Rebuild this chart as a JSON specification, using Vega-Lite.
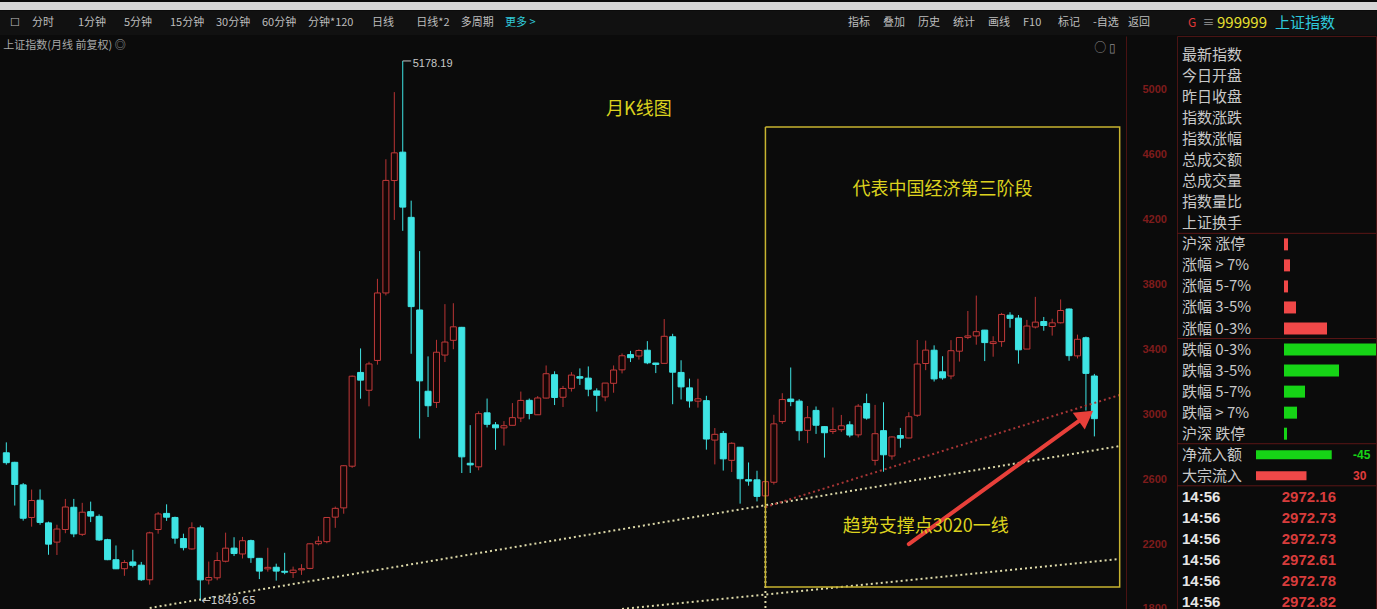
{
"$schema":"https://vega.github.io/schema/vega-lite/v6.json",
"background":"#0b0b0b",
"padding":0,
"spacing":0,
"config":{"view":{"stroke":null},"font":"Noto Sans CJK SC"},
"datasets":{
"candles":[
{"m":"2011-07","o":2762.6,"h":2826.9,"l":2689.4,"c":2701.7},
{"m":"2011-08","o":2703.9,"h":2707.1,"l":2437.4,"c":2567.3},
{"m":"2011-09","o":2565.0,"h":2576.0,"l":2344.4,"c":2359.2},
{"m":"2011-10","o":2363.9,"h":2536.1,"l":2307.2,"c":2468.3},
{"m":"2011-11","o":2470.3,"h":2536.9,"l":2319.3,"c":2333.4},
{"m":"2011-12","o":2330.6,"h":2338.4,"l":2134.0,"c":2199.4},
{"m":"2012-01","o":2212.0,"h":2319.1,"l":2132.6,"c":2292.6},
{"m":"2012-02","o":2289.6,"h":2478.4,"l":2266.9,"c":2428.5},
{"m":"2012-03","o":2426.9,"h":2478.4,"l":2242.3,"c":2262.8},
{"m":"2012-04","o":2260.0,"h":2454.1,"l":2250.2,"c":2396.3},
{"m":"2012-05","o":2399.6,"h":2461.6,"l":2335.4,"c":2372.2},
{"m":"2012-06","o":2370.8,"h":2383.0,"l":2219.6,"c":2225.4},
{"m":"2012-07","o":2226.9,"h":2232.4,"l":2100.7,"c":2103.6},
{"m":"2012-08","o":2103.5,"h":2191.4,"l":2045.7,"c":2047.5},
{"m":"2012-09","o":2048.0,"h":2100.8,"l":2004.2,"c":2086.2},
{"m":"2012-10","o":2089.7,"h":2164.7,"l":2056.3,"c":2069.0},
{"m":"2012-11","o":2070.0,"h":2089.8,"l":1973.0,"c":1980.1},
{"m":"2012-12","o":1979.6,"h":2276.1,"l":1949.5,"c":2269.1},
{"m":"2013-01","o":2289.5,"h":2398.0,"l":2264.0,"c":2385.4},
{"m":"2013-02","o":2389.0,"h":2444.8,"l":2343.0,"c":2365.6},
{"m":"2013-03","o":2364.0,"h":2369.0,"l":2202.0,"c":2236.6},
{"m":"2013-04","o":2234.0,"h":2264.0,"l":2161.0,"c":2177.9},
{"m":"2013-05","o":2170.0,"h":2334.0,"l":2166.0,"c":2300.6},
{"m":"2013-06","o":2300.0,"h":2314.0,"l":1849.65,"c":1979.2},
{"m":"2013-07","o":1978.0,"h":2092.0,"l":1951.0,"c":1993.8},
{"m":"2013-08","o":1992.0,"h":2150.0,"l":1977.0,"c":2098.4},
{"m":"2013-09","o":2094.0,"h":2270.3,"l":2087.0,"c":2174.7},
{"m":"2013-10","o":2175.0,"h":2242.0,"l":2126.0,"c":2141.6},
{"m":"2013-11","o":2139.0,"h":2244.0,"l":2111.0,"c":2220.5},
{"m":"2013-12","o":2221.0,"h":2227.0,"l":2084.0,"c":2116.0},
{"m":"2014-01","o":2112.0,"h":2114.0,"l":1984.0,"c":2033.3},
{"m":"2014-02","o":2047.0,"h":2177.0,"l":2030.0,"c":2056.3},
{"m":"2014-03","o":2057.0,"h":2079.0,"l":1974.4,"c":2033.3},
{"m":"2014-04","o":2032.0,"h":2146.0,"l":2014.0,"c":2026.4},
{"m":"2014-05","o":2024.0,"h":2061.0,"l":1991.0,"c":2039.2},
{"m":"2014-06","o":2041.0,"h":2076.0,"l":2010.0,"c":2048.3},
{"m":"2014-07","o":2050.0,"h":2204.0,"l":2045.0,"c":2201.6},
{"m":"2014-08","o":2202.0,"h":2248.0,"l":2192.0,"c":2217.2},
{"m":"2014-09","o":2215.0,"h":2365.0,"l":2205.0,"c":2363.9},
{"m":"2014-10","o":2366.0,"h":2431.0,"l":2300.0,"c":2420.2},
{"m":"2014-11","o":2423.0,"h":2685.0,"l":2387.0,"c":2682.8},
{"m":"2014-12","o":2680.0,"h":3239.0,"l":2670.0,"c":3234.7},
{"m":"2015-01","o":3258.0,"h":3406.0,"l":3096.0,"c":3210.4},
{"m":"2015-02","o":3148.0,"h":3324.0,"l":3049.0,"c":3310.3},
{"m":"2015-03","o":3332.0,"h":3835.0,"l":3306.0,"c":3747.9},
{"m":"2015-04","o":3748.0,"h":4572.0,"l":3733.0,"c":4441.7},
{"m":"2015-05","o":4441.0,"h":4986.0,"l":4198.0,"c":4611.7},
{"m":"2015-06","o":4616.0,"h":5178.19,"l":4131.0,"c":4277.2},
{"m":"2015-07","o":4214.0,"h":4317.0,"l":3373.0,"c":3663.7},
{"m":"2015-08","o":3643.0,"h":4006.0,"l":2850.7,"c":3206.0},
{"m":"2015-09","o":3142.0,"h":3357.0,"l":2983.0,"c":3052.8},
{"m":"2015-10","o":3073.0,"h":3459.0,"l":3039.0,"c":3382.6},
{"m":"2015-11","o":3365.0,"h":3679.0,"l":3322.0,"c":3445.4},
{"m":"2015-12","o":3456.0,"h":3684.6,"l":3401.0,"c":3539.2},
{"m":"2016-01","o":3536.0,"h":3538.7,"l":2638.0,"c":2737.6},
{"m":"2016-02","o":2698.0,"h":2933.0,"l":2638.3,"c":2688.0},
{"m":"2016-03","o":2676.0,"h":3018.8,"l":2655.0,"c":3003.9},
{"m":"2016-04","o":3009.0,"h":3097.0,"l":2919.0,"c":2938.3},
{"m":"2016-05","o":2935.0,"h":2952.0,"l":2781.0,"c":2916.6},
{"m":"2016-06","o":2916.0,"h":2958.0,"l":2807.0,"c":2929.6},
{"m":"2016-07","o":2932.0,"h":3069.0,"l":2932.0,"c":2979.3},
{"m":"2016-08","o":2977.0,"h":3140.0,"l":2952.0,"c":3085.5},
{"m":"2016-09","o":3086.0,"h":3097.0,"l":2969.0,"c":3004.7},
{"m":"2016-10","o":2997.0,"h":3112.0,"l":2997.0,"c":3100.5},
{"m":"2016-11","o":3100.0,"h":3301.0,"l":3098.0,"c":3250.0},
{"m":"2016-12","o":3244.0,"h":3265.0,"l":3057.0,"c":3103.6},
{"m":"2017-01","o":3105.0,"h":3175.0,"l":3045.0,"c":3159.2},
{"m":"2017-02","o":3160.0,"h":3260.0,"l":3140.0,"c":3241.7},
{"m":"2017-03","o":3232.0,"h":3283.0,"l":3181.0,"c":3222.5},
{"m":"2017-04","o":3223.0,"h":3295.0,"l":3111.0,"c":3154.7},
{"m":"2017-05","o":3144.0,"h":3160.0,"l":3016.5,"c":3117.2},
{"m":"2017-06","o":3107.0,"h":3193.0,"l":3080.0,"c":3192.4},
{"m":"2017-07","o":3191.0,"h":3301.0,"l":3133.0,"c":3273.0},
{"m":"2017-08","o":3274.0,"h":3375.0,"l":3252.0,"c":3360.8},
{"m":"2017-09","o":3368.0,"h":3391.0,"l":3322.0,"c":3348.9},
{"m":"2017-10","o":3359.0,"h":3400.0,"l":3337.0,"c":3393.3},
{"m":"2017-11","o":3395.0,"h":3451.0,"l":3309.0,"c":3317.2},
{"m":"2017-12","o":3316.0,"h":3317.0,"l":3254.0,"c":3307.2},
{"m":"2018-01","o":3314.0,"h":3587.0,"l":3314.0,"c":3480.8},
{"m":"2018-02","o":3478.0,"h":3496.0,"l":3062.0,"c":3259.4},
{"m":"2018-03","o":3258.0,"h":3333.0,"l":3091.0,"c":3168.9},
{"m":"2018-04","o":3163.0,"h":3220.0,"l":3041.0,"c":3082.2},
{"m":"2018-05","o":3081.0,"h":3219.0,"l":3041.0,"c":3095.5},
{"m":"2018-06","o":3084.0,"h":3114.0,"l":2782.0,"c":2847.4},
{"m":"2018-07","o":2841.0,"h":2915.0,"l":2691.0,"c":2876.4},
{"m":"2018-08","o":2882.0,"h":2897.0,"l":2653.0,"c":2725.3},
{"m":"2018-09","o":2716.0,"h":2827.0,"l":2644.0,"c":2821.4},
{"m":"2018-10","o":2797.0,"h":2797.0,"l":2449.0,"c":2602.8},
{"m":"2018-11","o":2597.0,"h":2703.0,"l":2560.0,"c":2588.2},
{"m":"2018-12","o":2596.0,"h":2652.0,"l":2463.0,"c":2493.9},
{"m":"2019-01","o":2497.0,"h":2618.0,"l":2440.9,"c":2584.6},
{"m":"2019-02","o":2581.0,"h":2997.0,"l":2567.0,"c":2940.9},
{"m":"2019-03","o":2955.0,"h":3129.9,"l":2941.0,"c":3090.8},
{"m":"2019-04","o":3094.0,"h":3288.5,"l":3050.0,"c":3078.3},
{"m":"2019-05","o":3081.0,"h":3093.0,"l":2838.0,"c":2898.7},
{"m":"2019-06","o":2901.0,"h":3051.0,"l":2822.0,"c":2978.9},
{"m":"2019-07","o":3024.0,"h":3048.0,"l":2879.0,"c":2932.5},
{"m":"2019-08","o":2924.0,"h":2927.0,"l":2733.0,"c":2886.2},
{"m":"2019-09","o":2894.0,"h":3042.0,"l":2878.0,"c":2905.2},
{"m":"2019-10","o":2905.0,"h":2996.0,"l":2891.0,"c":2929.1},
{"m":"2019-11","o":2935.0,"h":2957.0,"l":2858.0,"c":2872.0},
{"m":"2019-12","o":2873.0,"h":3063.0,"l":2857.0,"c":3050.1},
{"m":"2020-01","o":3066.0,"h":3127.0,"l":2967.0,"c":2976.5},
{"m":"2020-02","o":2716.0,"h":3058.0,"l":2685.0,"c":2880.3},
{"m":"2020-03","o":2899.0,"h":3074.0,"l":2646.0,"c":2750.3},
{"m":"2020-04","o":2743.0,"h":2864.0,"l":2720.0,"c":2860.1},
{"m":"2020-05","o":2869.0,"h":2916.0,"l":2794.0,"c":2852.4},
{"m":"2020-06","o":2854.0,"h":3013.0,"l":2852.0,"c":2984.7},
{"m":"2020-07","o":2994.0,"h":3458.0,"l":2984.0,"c":3310.0},
{"m":"2020-08","o":3313.0,"h":3454.0,"l":3272.0,"c":3395.7},
{"m":"2020-09","o":3395.0,"h":3425.0,"l":3202.0,"c":3218.1},
{"m":"2020-10","o":3262.0,"h":3358.0,"l":3213.0,"c":3224.5},
{"m":"2020-11","o":3236.0,"h":3457.0,"l":3216.0,"c":3391.8},
{"m":"2020-12","o":3389.0,"h":3474.7,"l":3325.0,"c":3473.1},
{"m":"2021-01","o":3474.0,"h":3637.0,"l":3463.0,"c":3483.1},
{"m":"2021-02","o":3483.0,"h":3731.7,"l":3429.0,"c":3509.1},
{"m":"2021-03","o":3519.0,"h":3520.0,"l":3328.0,"c":3441.9},
{"m":"2021-04","o":3436.0,"h":3481.0,"l":3355.0,"c":3446.9},
{"m":"2021-05","o":3448.0,"h":3625.0,"l":3416.0,"c":3615.5},
{"m":"2021-06","o":3611.0,"h":3629.0,"l":3534.0,"c":3591.2},
{"m":"2021-07","o":3593.0,"h":3612.0,"l":3312.0,"c":3397.4},
{"m":"2021-08","o":3402.0,"h":3582.0,"l":3402.0,"c":3544.0},
{"m":"2021-09","o":3538.0,"h":3723.9,"l":3529.0,"c":3568.2},
{"m":"2021-10","o":3572.0,"h":3600.0,"l":3515.0,"c":3547.3},
{"m":"2021-11","o":3541.0,"h":3589.0,"l":3485.0,"c":3563.9},
{"m":"2021-12","o":3564.0,"h":3708.0,"l":3560.0,"c":3639.8},
{"m":"2022-01","o":3649.0,"h":3652.0,"l":3330.0,"c":3361.4},
{"m":"2022-02","o":3360.0,"h":3491.0,"l":3344.0,"c":3462.3},
{"m":"2022-03","o":3472.0,"h":3479.0,"l":3023.0,"c":3252.2},
{"m":"2022-04","o":3236.0,"h":3249.0,"l":2863.7,"c":2972.8}
],
"guides":[
{"g":"s1","m":"2012-12","p":1806},{"g":"s1","m":"2022-07","p":2804},
{"g":"s2","m":"2017-08","p":1800},{"g":"s2","m":"2022-07","p":2108},
{"g":"v","m":"2019-01","p":2435},{"g":"v","m":"2019-01","p":1776}
],
"redGuide":[{"m":"2019-01","p":2428},{"m":"2022-07","p":3119}],
"box":[
{"k":0,"m":"2019-01","p":4771},{"k":1,"m":"2022-07","p":4771},{"k":2,"m":"2022-07","p":1935},{"k":3,"m":"2019-01","p":1935},{"k":4,"m":"2019-01","p":4771}
],
"arrow":[{"m":"2020-06","p":2200},{"m":"2022-03","p":2990}],
"arrowHead":[{"m":"2022-03","p":2990}],
"notes":[
{"m":"2017-10","p":4876,"t":"月K线图"},
{"m":"2020-10","p":4383,"t":"代表中国经济第三阶段"},
{"m":"2020-08","p":2305,"t":"趋势支撑点3020一线"}
],
"peak":[{"m":"2015-06","m2":"2015-07","p":5178.19,"t":"5178.19"}],
"low":[{"m":"2013-06","p":1849.65,"t":"←1849.65"}],
"titleRow":[{"m":"2011-07","p":5270,"t":"上证指数(月线 前复权) ◎"}],
"icons":[{"m":"2022-04","p":5255,"t":"○ ▯"}],
"toolBox":[{"item":"☐"}],
"toolA":[{"item":"分时"},{"item":"1分钟"},{"item":"5分钟"},{"item":"15分钟"},{"item":"30分钟"},{"item":"60分钟"},{"item":"分钟*120"}],
"toolB":[{"item":"日线"},{"item":"日线*2"},{"item":"多周期"},{"item":"更多 >"}],
"toolR":[{"item":"指标"},{"item":"叠加"},{"item":"历史"},{"item":"统计"},{"item":"画线"},{"item":"F10"},{"item":"标记"},{"item":"-自选"},{"item":"返回"}],
"toolH":[{"item":"G"},{"item":"≡"},{"item":"999999"},{"item":"上证指数"}],
"panelLabels":[
{"key":"最新指数","label":"最新指数"},{"key":"今日开盘","label":"今日开盘"},{"key":"昨日收盘","label":"昨日收盘"},{"key":"指数涨跌","label":"指数涨跌"},{"key":"指数涨幅","label":"指数涨幅"},{"key":"总成交额","label":"总成交额"},{"key":"总成交量","label":"总成交量"},{"key":"指数量比","label":"指数量比"},{"key":"上证换手","label":"上证换手"},
{"key":"沪深 涨停","label":"沪深 涨停"},{"key":"涨幅 > 7%","label":"涨幅 > 7%"},{"key":"涨幅 5-7%","label":"涨幅 5-7%"},{"key":"涨幅 3-5%","label":"涨幅 3-5%"},{"key":"涨幅 0-3%","label":"涨幅 0-3%"},
{"key":"跌幅 0-3%","label":"跌幅 0-3%"},{"key":"跌幅 3-5%","label":"跌幅 3-5%"},{"key":"跌幅 5-7%","label":"跌幅 5-7%"},{"key":"跌幅 > 7%","label":"跌幅 > 7%"},{"key":"沪深 跌停","label":"沪深 跌停"},
{"key":"净流入额","label":"净流入额"},{"key":"大宗流入","label":"大宗流入"}
],
"breadth":[
{"key":"沪深 涨停","n":40,"side":"up"},{"key":"涨幅 > 7%","n":60,"side":"up"},{"key":"涨幅 5-7%","n":40,"side":"up"},{"key":"涨幅 3-5%","n":120,"side":"up"},{"key":"涨幅 0-3%","n":430,"side":"up"},
{"key":"跌幅 0-3%","n":1150,"side":"down"},{"key":"跌幅 3-5%","n":550,"side":"down"},{"key":"跌幅 5-7%","n":210,"side":"down"},{"key":"跌幅 > 7%","n":130,"side":"down"},{"key":"沪深 跌停","n":30,"side":"down"}
],
"flows":[{"key":"净流入额","amt":45.9,"side":"down","txt":"-45"},{"key":"大宗流入","amt":30.6,"side":"up","txt":"30"}],
"ticks":[
{"key":"t1","time":"14:56","price":"2972.16"},{"key":"t2","time":"14:56","price":"2972.73"},{"key":"t3","time":"14:56","price":"2972.73"},
{"key":"t4","time":"14:56","price":"2972.61"},{"key":"t5","time":"14:56","price":"2972.78"},{"key":"t6","time":"14:56","price":"2972.82"}
],
"seps":[{"key":"沪深 涨停"},{"key":"跌幅 0-3%"},{"key":"净流入额"},{"key":"t1"}]
},
"vconcat":[
{
"width":1377,"height":8,
"view":{"fill":"#d6d6d6","stroke":null},
"data":{"values":[{"t":""}]},
"mark":{"type":"text"},
"encoding":{"text":{"field":"t"}}
},
{
"width":1377,"height":24,
"view":{"fill":"#111111","stroke":null},
"layer":[
{"data":{"name":"toolBox"},"mark":{"type":"text","align":"left","baseline":"middle","fontSize":11,"color":"#bdbdbd"},
 "encoding":{"x":{"field":"item","type":"nominal","scale":{"type":"point","domain":["☐"],"range":[10,10],"padding":0},"axis":null},"text":{"field":"item"}}},
{"data":{"name":"toolA"},"mark":{"type":"text","align":"left","baseline":"middle","fontSize":11,"color":"#bdbdbd"},
 "encoding":{"x":{"field":"item","type":"nominal","scale":{"type":"point","domain":["分时","1分钟","5分钟","15分钟","30分钟","60分钟","分钟*120"],"range":[32,308],"padding":0},"axis":null},"text":{"field":"item"}}},
{"data":{"name":"toolB"},"mark":{"type":"text","align":"left","baseline":"middle","fontSize":11},
 "encoding":{"x":{"field":"item","type":"nominal","scale":{"type":"point","domain":["日线","日线*2","多周期","更多 >"],"range":[372,505],"padding":0},"axis":null},
 "text":{"field":"item"},
 "color":{"condition":{"test":"datum.item === '更多 >'","value":"#30c8d8"},"value":"#bdbdbd"}}},
{"data":{"name":"toolR"},"mark":{"type":"text","align":"left","baseline":"middle","fontSize":11,"color":"#bdbdbd"},
 "encoding":{"x":{"field":"item","type":"nominal","scale":{"type":"point","domain":["指标","叠加","历史","统计","画线","F10","标记","-自选","返回"],"range":[848,1128],"padding":0},"axis":null},
 "text":{"field":"item"}}},
{"data":{"name":"toolH"},"mark":{"type":"text","align":"left","baseline":"middle"},
 "encoding":{"x":{"field":"item","type":"nominal","scale":{"type":"point","domain":["G","≡","999999","s1","s2","s3","上证指数"],"range":[1188,1275],"padding":0},"axis":null},
 "text":{"field":"item"},
 "size":{"condition":{"test":"datum.item === '999999' || datum.item === '上证指数'","value":15},"value":12},
 "color":{"field":"item","type":"nominal","scale":{"domain":["G","≡","999999","上证指数"],"range":["#e03838","#9a9a9a","#e8e030","#2ec8dc"]},"legend":null}}}
],
"resolve":{"scale":{"x":"independent","color":"independent","size":"independent"}}
},
{
"spacing":9,
"hconcat":[
{
"width":1126,"height":577,
"encoding":{"x":{"field":"m","type":"ordinal","scale":{"type":"band","domain":["2011-07","2011-08","2011-09","2011-10","2011-11","2011-12","2012-01","2012-02","2012-03","2012-04","2012-05","2012-06","2012-07","2012-08","2012-09","2012-10","2012-11","2012-12","2013-01","2013-02","2013-03","2013-04","2013-05","2013-06","2013-07","2013-08","2013-09","2013-10","2013-11","2013-12","2014-01","2014-02","2014-03","2014-04","2014-05","2014-06","2014-07","2014-08","2014-09","2014-10","2014-11","2014-12","2015-01","2015-02","2015-03","2015-04","2015-05","2015-06","2015-07","2015-08","2015-09","2015-10","2015-11","2015-12","2016-01","2016-02","2016-03","2016-04","2016-05","2016-06","2016-07","2016-08","2016-09","2016-10","2016-11","2016-12","2017-01","2017-02","2017-03","2017-04","2017-05","2017-06","2017-07","2017-08","2017-09","2017-10","2017-11","2017-12","2018-01","2018-02","2018-03","2018-04","2018-05","2018-06","2018-07","2018-08","2018-09","2018-10","2018-11","2018-12","2019-01","2019-02","2019-03","2019-04","2019-05","2019-06","2019-07","2019-08","2019-09","2019-10","2019-11","2019-12","2020-01","2020-02","2020-03","2020-04","2020-05","2020-06","2020-07","2020-08","2020-09","2020-10","2020-11","2020-12","2021-01","2021-02","2021-03","2021-04","2021-05","2021-06","2021-07","2021-08","2021-09","2021-10","2021-11","2021-12","2022-01","2022-02","2022-03","2022-04","2022-05","2022-06","2022-07"],"paddingInner":0,"paddingOuter":0.25},"axis":null}},
"layer":[
{"data":{"name":"candles"},"mark":{"type":"rule","strokeWidth":1},
 "encoding":{"y":{"field":"l","type":"quantitative","scale":{"domain":[1775,5332],"zero":false,"nice":false},
   "axis":{"orient":"right","values":[1800,2000,2200,2400,2600,2800,3000,3200,3400,3600,3800,4000,4200,4400,4600,4800,5000,5200],"format":"d","labelOverlap":false,"labelFlush":false,"title":null,"grid":false,"ticks":false,"labelPadding":16,"labelColor":"#7e1c1c","labelFont":"Liberation Sans","labelFontSize":11,"labelFontWeight":"bold","domainColor":"#4a1212","labelAlign":"left","labelBaseline":"middle"}},
  "y2":{"field":"h"},
  "color":{"condition":{"test":"datum.c >= datum.o","value":"#b83434"},"value":"#3ee4e4"}}},
{"data":{"name":"candles"},"mark":{"type":"bar","size":6,"strokeWidth":1},
 "encoding":{"y":{"field":"o","type":"quantitative","scale":{"domain":[1775,5332],"zero":false,"nice":false}},
  "y2":{"field":"c"},
  "fill":{"condition":{"test":"datum.c >= datum.o","value":"#140606"},"value":"#3ee4e4"},
  "stroke":{"condition":{"test":"datum.c >= datum.o","value":"#c23a3a"},"value":"#3ee4e4"}}},
{"data":{"name":"guides"},"mark":{"type":"line","strokeDash":[2,3],"strokeWidth":2,"color":"#dcd8a8"},
 "encoding":{"y":{"field":"p","type":"quantitative","scale":{"domain":[1775,5332],"zero":false,"nice":false}},"detail":{"field":"g"}}},
{"data":{"name":"redGuide"},"mark":{"type":"line","strokeDash":[2,3],"strokeWidth":2,"color":"#a83636"},
 "encoding":{"y":{"field":"p","type":"quantitative","scale":{"domain":[1775,5332],"zero":false,"nice":false}}}},
{"data":{"name":"box"},"mark":{"type":"line","strokeWidth":1.5,"color":"#c8b430"},
 "encoding":{"y":{"field":"p","type":"quantitative","scale":{"domain":[1775,5332],"zero":false,"nice":false}},"order":{"field":"k"}}},
{"data":{"name":"arrow"},"mark":{"type":"line","strokeWidth":4,"color":"#e8403a","strokeCap":"round"},
 "encoding":{"y":{"field":"p","type":"quantitative","scale":{"domain":[1775,5332],"zero":false,"nice":false}}}},
{"data":{"name":"arrowHead"},"mark":{"type":"point","shape":"triangle-up","angle":54,"size":420,"filled":true,"color":"#e8403a","opacity":1},
 "encoding":{"y":{"field":"p","type":"quantitative","scale":{"domain":[1775,5332],"zero":false,"nice":false}}}},
{"data":{"name":"notes"},"mark":{"type":"text","fontSize":18,"color":"#dcd21e","align":"center","baseline":"middle"},
 "encoding":{"y":{"field":"p","type":"quantitative","scale":{"domain":[1775,5332],"zero":false,"nice":false}},"text":{"field":"t"}}},
{"data":{"name":"peak"},"mark":{"type":"rule","color":"#c8c8c8","strokeWidth":1},
 "encoding":{"y":{"field":"p","type":"quantitative","scale":{"domain":[1775,5332],"zero":false,"nice":false}},"x2":{"field":"m2"}}},
{"data":{"name":"peak"},"mark":{"type":"text","fontSize":11,"color":"#c8c8c8","align":"left","baseline":"middle","dx":10,"dy":3,"font":"Liberation Sans"},
 "encoding":{"y":{"field":"p","type":"quantitative","scale":{"domain":[1775,5332],"zero":false,"nice":false}},"text":{"field":"t"}}},
{"data":{"name":"low"},"mark":{"type":"text","fontSize":11,"color":"#c8c8c8","align":"left","baseline":"middle","dx":1,"font":"DejaVu Sans"},
 "encoding":{"y":{"field":"p","type":"quantitative","scale":{"domain":[1775,5332],"zero":false,"nice":false}},"text":{"field":"t"}}},
{"data":{"name":"titleRow"},"mark":{"type":"text","fontSize":11,"color":"#a8a8a8","align":"left","baseline":"middle","dx":-3},
 "encoding":{"y":{"field":"p","type":"quantitative","scale":{"domain":[1775,5332],"zero":false,"nice":false}},"text":{"field":"t"}}},
{"data":{"name":"icons"},"mark":{"type":"text","fontSize":12,"color":"#8a8a8a","align":"left","baseline":"middle"},
 "encoding":{"y":{"field":"p","type":"quantitative","scale":{"domain":[1775,5332],"zero":false,"nice":false}},"text":{"field":"t"}}}
]
},
{
"width":199,"height":577,
"view":{"stroke":"#4a1414","fill":"#0b0b0b"},
"encoding":{"y":{"field":"key","type":"nominal","scale":{"type":"point","domain":["最新指数","今日开盘","昨日收盘","指数涨跌","指数涨幅","总成交额","总成交量","指数量比","上证换手","沪深 涨停","涨幅 > 7%","涨幅 5-7%","涨幅 3-5%","涨幅 0-3%","跌幅 0-3%","跌幅 3-5%","跌幅 5-7%","跌幅 > 7%","沪深 跌停","净流入额","大宗流入","t1","t2","t3","t4","t5","t6"],"range":[19,566],"padding":0},"axis":null}},
"layer":[
{"data":{"name":"seps"},"mark":{"type":"rule","color":"#5a1616","strokeWidth":1,"yOffset":-11}},
{"data":{"name":"panelLabels"},"mark":{"type":"text","align":"left","baseline":"middle","fontSize":15,"color":"#c8c8c8"},
 "encoding":{"x":{"datum":0,"type":"quantitative","scale":{"domain":[0,1],"range":[5,199]},"axis":null},"text":{"field":"label"}}},
{"data":{"name":"breadth"},"mark":{"type":"bar","size":12,"clip":true},
 "encoding":{"x":{"field":"n","type":"quantitative","scale":{"domain":[0,920],"range":[107,199]},"axis":null},
  "color":{"field":"side","type":"nominal","scale":{"domain":["up","down"],"range":["#f04848","#16d416"]},"legend":null}}},
{"data":{"name":"flows"},"mark":{"type":"bar","size":9,"clip":true},
 "encoding":{"x":{"field":"amt","type":"quantitative","scale":{"domain":[0,80],"range":[79,211]},"axis":null},
  "color":{"field":"side","type":"nominal","scale":{"domain":["up","down"],"range":["#f04848","#16d416"]},"legend":null}}},
{"data":{"name":"flows"},"mark":{"type":"text","align":"left","baseline":"middle","fontSize":12,"fontWeight":"bold","font":"Liberation Sans"},
 "encoding":{"x":{"datum":0,"type":"quantitative","scale":{"domain":[0,1],"range":[176,199]},"axis":null},"text":{"field":"txt"},
  "color":{"field":"side","type":"nominal","scale":{"domain":["up","down"],"range":["#e03c3c","#16d416"]},"legend":null}}},
{"data":{"name":"ticks"},"mark":{"type":"text","align":"left","baseline":"middle","fontSize":15,"fontWeight":"bold","color":"#e6e6e6","font":"Liberation Sans"},
 "encoding":{"x":{"datum":0,"type":"quantitative","scale":{"domain":[0,1],"range":[5,199]},"axis":null},"text":{"field":"time"}}},
{"data":{"name":"ticks"},"mark":{"type":"text","align":"right","baseline":"middle","fontSize":15,"fontWeight":"bold","color":"#d83c3c","font":"Liberation Sans"},
 "encoding":{"x":{"datum":0,"type":"quantitative","scale":{"domain":[0,1],"range":[159,199]},"axis":null},"text":{"field":"price"}}}
],
"resolve":{"scale":{"x":"independent","color":"independent"}}
}
]
}
]
}
